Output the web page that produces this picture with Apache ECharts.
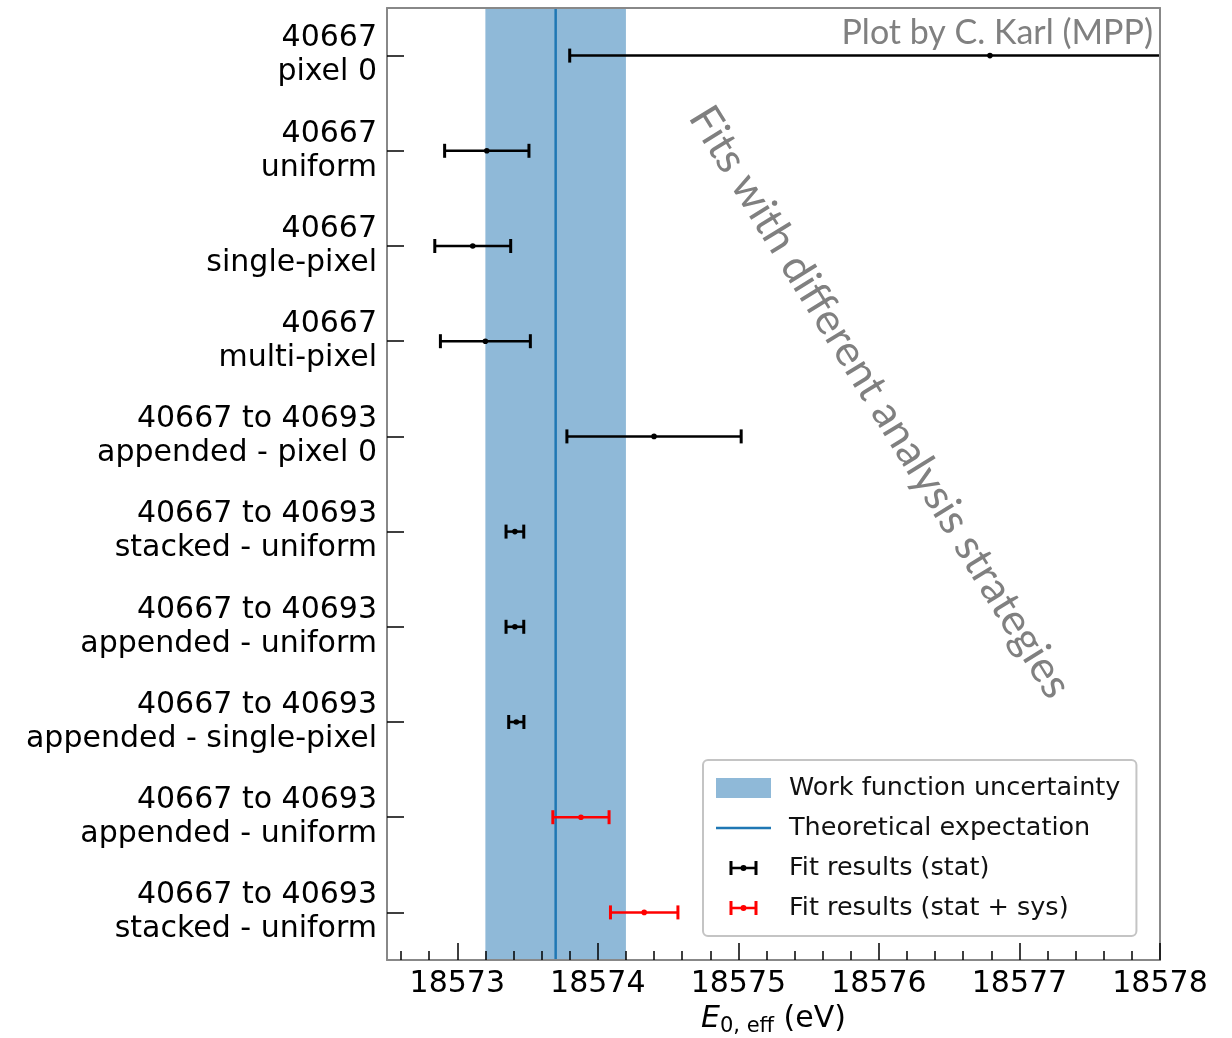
<!DOCTYPE html>
<html>
<head>
<meta charset="utf-8">
<script src="https://cdn.jsdelivr.net/npm/echarts@6/dist/echarts.min.js"></script>
<style>
  html, body { margin: 0; padding: 0; background: #ffffff; }
  #chart { width: 1232px; height: 1038px; }
</style>
</head>
<body>
<div id="chart"></div>
<script>
// Fit configurations, top to bottom
const categories = [
  '40667\npixel 0',
  '40667\nuniform',
  '40667\nsingle-pixel',
  '40667\nmulti-pixel',
  '40667 to 40693\nappended - pixel 0',
  '40667 to 40693\nstacked - uniform',
  '40667 to 40693\nappended - uniform',
  '40667 to 40693\nappended - single-pixel',
  '40667 to 40693\nappended - uniform',
  '40667 to 40693\nstacked - uniform'
];

// Fit results with statistical uncertainty only (rows 0-7)
const statRows    = [0, 1, 2, 3, 4, 5, 6, 7];
const statCenters = [18576.79, 18573.21, 18573.11, 18573.20, 18574.40, 18573.41, 18573.41, 18573.42];
const statErrors  = [2.99, 0.30, 0.27, 0.32, 0.62, 0.063, 0.063, 0.054];

// Fit results with statistical + systematic uncertainty (rows 8-9)
const sysRows    = [8, 9];
const sysCenters = [18573.88, 18574.33];
const sysErrors  = [0.20, 0.24];

// Theoretical endpoint and work function uncertainty band (eV)
const theoryValue = 18573.7;
const workFunctionBand = [18573.2, 18574.2];

// Axis ticks
const xRange = [18572.5, 18578];
const majorTicks = [18573, 18574, 18575, 18576, 18577, 18578];
const minorTicks = [];
for (let k = 0; k <= 27; k++) {
  const v = (185726 + 2 * k) / 10;
  if (majorTicks.indexOf(v) === -1) minorTicks.push(v);
}

const FONT = 'DejaVu Sans';
const NOTE_FONT = 'Lato';
const FRAME = '#888888';

const chart = echarts.init(document.getElementById('chart'), null, { renderer: 'canvas' });

function pack(rows, centers, errors) {
  return rows.map((r, i) => [r, centers[i], errors[i]]);
}

function renderErrorBar(params, api) {
  const row = api.value(0);
  const c = api.value(1);
  const e = api.value(2);
  const pL = api.coord([c - e, row]);
  const pR = api.coord([c + e, row]);
  const pC = api.coord([c, row]);
  const color = api.visual('color');
  const capH = 7;
  return {
    type: 'group',
    children: [
      { type: 'line', shape: { x1: pL[0], y1: pL[1], x2: pR[0], y2: pR[1] }, style: { stroke: color, lineWidth: 2.5 } },
      { type: 'line', shape: { x1: pL[0], y1: pL[1] - capH, x2: pL[0], y2: pL[1] + capH }, style: { stroke: color, lineWidth: 3 } },
      { type: 'line', shape: { x1: pR[0], y1: pR[1] - capH, x2: pR[0], y2: pR[1] + capH }, style: { stroke: color, lineWidth: 3 } },
      { type: 'circle', shape: { cx: pC[0], cy: pC[1], r: 2.8 }, style: { fill: color } }
    ]
  };
}

// Legend glyphs on a 55 x 20 box (tiny corner squares fix the box size)
const BOX = 'M0 0h0.01v0.01h-0.01Z M55 19.99h0.01v0.01h-0.01Z ';
const lineIcon = 'path://' + BOX + 'M0 8.8H55V11.2H0Z';
const errIcon = 'path://' + BOX +
  'M13.5 3H16.5V17H13.5Z M38.5 3H41.5V17H38.5Z M16.5 8.7H38.5V11.3H16.5Z ' +
  'M30.5 10A3 3 0 1 1 24.5 10A3 3 0 1 1 30.5 10Z';

const option = {
  backgroundColor: '#ffffff',
  animation: false,
  grid: { left: 387, right: 72, top: 8, bottom: 78, containLabel: false, outerBoundsMode: 'none' },
  legend: {
    orient: 'vertical',
    left: 703,
    top: 760,
    itemWidth: 55,
    itemHeight: 20,
    itemGap: 14,
    padding: [15, 16, 15, 13],
    backgroundColor: '#ffffff',
    borderColor: '#c4c4c4',
    borderWidth: 2,
    borderRadius: 5,
    selectedMode: false,
    textStyle: { fontFamily: FONT, fontSize: 25.5, color: '#111111', padding: [0, 0, 0, 13] },
    data: [
      { name: 'Work function uncertainty', icon: 'rect' },
      { name: 'Theoretical expectation', icon: lineIcon },
      { name: 'Fit results (stat)', icon: errIcon },
      { name: 'Fit results (stat + sys)', icon: errIcon }
    ]
  },
  xAxis: [
    {
      type: 'value',
      position: 'bottom',
      min: xRange[0],
      max: xRange[1],
      z: 10,
      axisLine: { show: true, lineStyle: { color: FRAME, width: 2 } },
      axisTick: { show: true, inside: true, length: 17, customValues: majorTicks, lineStyle: { color: '#000000', width: 1.5 } },
      axisLabel: {
        customValues: majorTicks,
        fontFamily: FONT, fontSize: 30, color: '#000000', margin: 9,
        formatter: v => String(v)
      },
      splitLine: { show: false },
      name: '{e|E}{s|0, eff}{n| (eV)}',
      nameLocation: 'middle',
      nameGap: 42,
      nameTextStyle: {
        fontFamily: FONT, fontSize: 30, color: '#000000',
        rich: {
          e: { fontFamily: FONT, fontSize: 30, fontStyle: 'italic', color: '#000000', verticalAlign: 'middle' },
          s: { fontFamily: FONT, fontSize: 21, color: '#000000', padding: [14, 0, 0, 0], verticalAlign: 'middle' },
          n: { fontFamily: FONT, fontSize: 30, color: '#000000', verticalAlign: 'middle' }
        }
      }
    },
    {
      type: 'value',
      position: 'bottom',
      min: xRange[0],
      max: xRange[1],
      z: 10,
      axisLine: { show: false },
      axisTick: { show: true, inside: true, length: 9, customValues: minorTicks, lineStyle: { color: '#000000', width: 1.5 } },
      axisLabel: { show: false },
      splitLine: { show: false }
    },
    {
      type: 'value',
      position: 'top',
      min: xRange[0],
      max: xRange[1],
      z: 10,
      axisLine: { show: true, lineStyle: { color: FRAME, width: 2 } },
      axisTick: { show: false },
      axisLabel: { show: false },
      splitLine: { show: false }
    }
  ],
  yAxis: [
    {
      type: 'category',
      data: categories,
      inverse: true,
      boundaryGap: true,
      position: 'left',
      z: 10,
      axisLine: { show: true, lineStyle: { color: FRAME, width: 2 } },
      axisTick: { show: true, inside: true, alignWithLabel: true, length: 17, lineStyle: { color: '#000000', width: 1.5 } },
      axisLabel: { fontFamily: FONT, fontSize: 30, lineHeight: 34, color: '#000000', margin: 10, align: 'right', padding: [12, 0, 0, 0] },
      splitLine: { show: false }
    },
    {
      type: 'category',
      data: categories,
      inverse: true,
      position: 'right',
      z: 10,
      axisLine: { show: true, lineStyle: { color: FRAME, width: 2 } },
      axisTick: { show: false },
      axisLabel: { show: false },
      splitLine: { show: false }
    }
  ],
  series: [
    {
      name: 'Work function uncertainty',
      type: 'custom',
      xAxisIndex: 0,
      yAxisIndex: 0,
      silent: true,
      z: 1,
      itemStyle: { color: '#8fb9d8' },
      encode: { x: [0, 1], y: 2 },
      data: [[workFunctionBand[0], workFunctionBand[1], 0]],
      renderItem: function (params, api) {
        const cs = params.coordSys;
        const x0 = api.coord([api.value(0), 0])[0];
        const x1 = api.coord([api.value(1), 0])[0];
        return {
          type: 'rect',
          shape: { x: x0, y: cs.y, width: x1 - x0, height: cs.height },
          style: { fill: api.visual('color') }
        };
      }
    },
    {
      name: 'Theoretical expectation',
      type: 'custom',
      xAxisIndex: 0,
      yAxisIndex: 0,
      silent: true,
      z: 2,
      itemStyle: { color: '#1f77b4' },
      encode: { x: 0, y: 1 },
      data: [[theoryValue, 0]],
      renderItem: function (params, api) {
        const cs = params.coordSys;
        const x = api.coord([api.value(0), 0])[0];
        return {
          type: 'line',
          shape: { x1: x, y1: cs.y, x2: x, y2: cs.y + cs.height },
          style: { stroke: api.visual('color'), lineWidth: 2.5 }
        };
      }
    },
    {
      name: 'Fit results (stat)',
      type: 'custom',
      xAxisIndex: 0,
      yAxisIndex: 0,
      clip: true,
      z: 3,
      itemStyle: { color: '#000000' },
      encode: { x: 1, y: 0 },
      data: pack(statRows, statCenters, statErrors),
      renderItem: renderErrorBar
    },
    {
      name: 'Fit results (stat + sys)',
      type: 'custom',
      xAxisIndex: 0,
      yAxisIndex: 0,
      clip: true,
      z: 3,
      itemStyle: { color: '#ff0000' },
      encode: { x: 1, y: 0 },
      data: pack(sysRows, sysCenters, sysErrors),
      renderItem: renderErrorBar
    }
  ],
  graphic: [
    {
      type: 'text',
      right: 79,
      top: 16,
      z: 20,
      style: { text: 'Plot by C. Karl (MPP)', fill: '#808080', font: '34px ' + NOTE_FONT }
    },
    {
      type: 'text',
      x: 880,
      y: 402,
      rotation: -58.3 * Math.PI / 180,
      z: 20,
      style: {
        text: 'Fits with different analysis strategies',
        fill: '#808080',
        font: '43px ' + NOTE_FONT,
        align: 'center',
        verticalAlign: 'middle'
      }
    }
  ]
};

chart.setOption(option);
</script>
</body>
</html>
